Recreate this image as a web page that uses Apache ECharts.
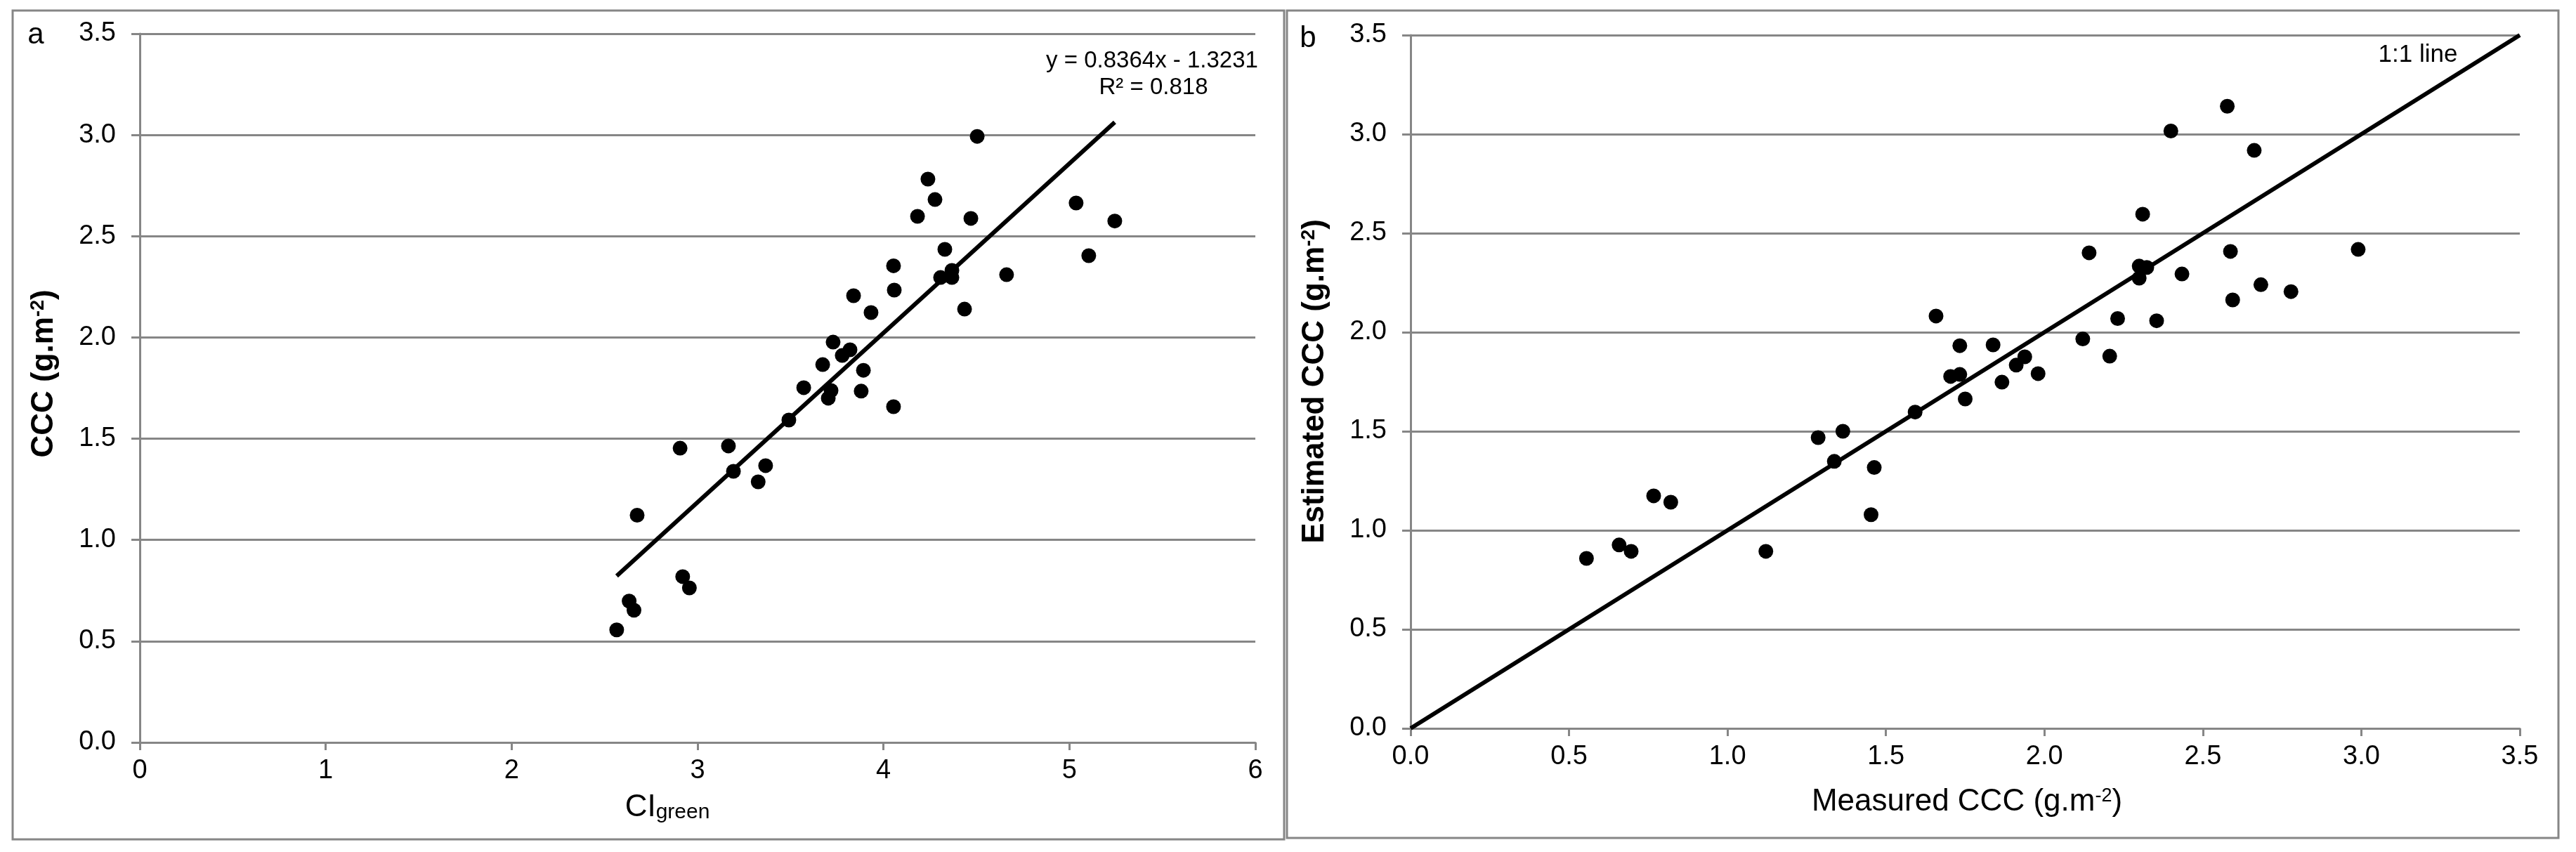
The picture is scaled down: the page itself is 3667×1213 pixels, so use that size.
<!DOCTYPE html>
<html>
<head>
<meta charset="utf-8">
<script src="https://cdn.jsdelivr.net/npm/echarts@6/dist/echarts.min.js"></script>
<style>
html,body{margin:0;padding:0;background:#fff;}
#chart{width:3667px;height:1213px;}
</style>
</head>
<body>
<div id="chart"></div>
<script>
// ---- Panel a: CIgreen vs CCC ----
const ciGreen = [2.565,2.632,2.658,2.675,2.906,2.920,2.956,3.166,3.193,3.326,
                 3.366,3.491,3.571,3.673,3.703,3.718,3.729,3.778,3.820,3.839,
                 3.880,3.892,3.933,4.054,4.058,4.054,4.183,4.239,4.277,4.307,
                 4.330,4.368,4.368,4.436,4.470,4.504,4.662,5.036,5.104,5.244];
const cccA    = [0.556,0.698,0.653,1.122,1.453,0.819,0.763,1.464,1.339,1.287,
                 1.367,1.592,1.752,1.866,1.700,1.738,1.977,1.911,1.939,2.206,
                 1.735,1.838,2.123,2.354,2.234,1.658,2.598,2.782,2.681,2.296,
                 2.435,2.331,2.296,2.140,2.588,2.993,2.310,2.664,2.404,2.575];
const slope = 0.8364, intercept = -1.3231, r2 = 0.818;

// ---- Panel b: measured vs estimated CCC ----
const measuredB  = [0.555,0.658,0.696,0.767,0.821,1.121,1.286,1.337,1.364,1.453,
                    1.463,1.592,1.658,1.704,1.733,1.733,1.750,1.838,1.866,1.911,
                    1.938,1.980,2.121,2.141,2.206,2.231,2.299,2.299,2.310,2.323,
                    2.354,2.399,2.434,2.577,2.587,2.594,2.662,2.683,2.778,2.990];
const estimatedB = [0.858,0.926,0.894,1.174,1.142,0.894,1.468,1.348,1.500,1.079,
                    1.317,1.597,2.082,1.777,1.787,1.932,1.663,1.936,1.748,1.834,
                    1.876,1.791,1.966,2.401,1.879,2.069,2.334,2.273,2.596,2.327,
                    2.058,3.016,2.294,3.141,2.408,2.163,2.918,2.240,2.205,2.418];

// ---- tick labels ----
const xTicksA = [0,1,2,3,4,5,6];
const yTicks  = [0,0.5,1.0,1.5,2.0,2.5,3.0,3.5];
const xTicksB = [0,0.5,1.0,1.5,2.0,2.5,3.0,3.5];

const GRAY = '#868686';
const FONT = '"Liberation Sans", Arial, sans-serif';

const xMinA = Math.min(...ciGreen), xMaxA = Math.max(...ciGreen);
const trend = [[xMinA, slope*xMinA+intercept],[xMaxA, slope*xMaxA+intercept]];
const oneToOne = [[xTicksB[0], xTicksB[0]],[xTicksB[xTicksB.length-1], xTicksB[xTicksB.length-1]]];

function valueAxis(ticks, fmt, isX){
  return {
    type:'value',
    min: ticks[0], max: ticks[ticks.length-1], interval: ticks[1]-ticks[0],
    axisLine:{show:true, lineStyle:{color:GRAY, width:3}},
    axisTick:{show:true, length: isX?11:12, lineStyle:{color:GRAY, width:3}},
    splitLine:{show:!isX, lineStyle:{color:GRAY, width:3}},
    axisLabel:{color:'#000', fontSize:38, fontFamily:FONT, margin: isX?22:34,
               formatter: v => fmt(v)}
  };
}
const f1 = v => v.toFixed(1);
const f0 = v => String(Math.round(v));

const richSup = (size, bold) => ({
  t:{fontSize:size, fontWeight: bold?'bold':'normal', fontFamily:FONT, color:'#000', lineHeight:size},
  s:{fontSize:Math.round(size*0.62), fontWeight: bold?'bold':'normal', fontFamily:FONT, color:'#000',
     lineHeight:Math.round(size*0.45), verticalAlign:'top'},
  sub:{fontSize:Math.round(size*0.68), fontFamily:FONT, color:'#000',
     lineHeight:Math.round(size*0.5), verticalAlign:'bottom'}
});

function txt(x, y, text, opt){
  opt = opt || {};
  return {
    type:'text', x:x, y:y, rotation: opt.rot || 0, z:10,
    style:{text:text, fill:'#000', fontSize:opt.size||38, fontFamily:FONT,
           fontWeight: opt.bold?'bold':'normal',
           align:'center', verticalAlign:'middle',
           rich: opt.rich}
  };
}

const chart = echarts.init(document.getElementById('chart'), null, {renderer:'canvas'});
chart.setOption({
  animation:false,
  backgroundColor:'#fff',
  grid:[
    {left:199, top:48, width:1588, height:1009},
    {left:2008, top:50, width:1579, height:987}
  ],
  xAxis:[
    Object.assign(valueAxis(xTicksA, f0, true), {gridIndex:0}),
    Object.assign(valueAxis(xTicksB, f1, true), {gridIndex:1})
  ],
  yAxis:[
    Object.assign(valueAxis(yTicks, f1, false), {gridIndex:0}),
    Object.assign(valueAxis(yTicks, f1, false), {gridIndex:1})
  ],
  series:[
    {type:'scatter', xAxisIndex:0, yAxisIndex:0, symbol:'circle', symbolSize:21,
     itemStyle:{color:'#000', opacity:1}, data: ciGreen.map((x,i)=>[x, cccA[i]]), z:2},
    {type:'line', xAxisIndex:0, yAxisIndex:0, data:trend, symbol:'none',
     lineStyle:{color:'#000', width:6}, z:3},
    {type:'scatter', xAxisIndex:1, yAxisIndex:1, symbol:'circle', symbolSize:21,
     itemStyle:{color:'#000', opacity:1}, data: measuredB.map((x,i)=>[x, estimatedB[i]]), z:2},
    {type:'line', xAxisIndex:1, yAxisIndex:1, data:oneToOne, symbol:'none',
     lineStyle:{color:'#000', width:6}, z:3}
  ],
  graphic:[
    {type:'rect', shape:{x:18, y:15, width:1810, height:1180}, style:{fill:'none', stroke:GRAY, lineWidth:3}, z:0},
    {type:'rect', shape:{x:1832, y:15, width:1810, height:1178}, style:{fill:'none', stroke:GRAY, lineWidth:3}, z:0},
    txt(51, 50, 'a', {size:42}),
    txt(1862, 55, 'b', {size:42}),
    txt(1640, 87, 'y = ' + slope.toFixed(4) + 'x - ' + Math.abs(intercept).toFixed(4), {size:33}),
    txt(1642, 125, 'R\u00B2 = ' + r2.toFixed(3), {size:33}),
    txt(3442, 78, '1:1 line', {size:35}),
    txt(63, 532, '{t|CCC (g.m}{s|-2}{t|)}', {rot:Math.PI/2, rich:richSup(44, true)}),
    txt(1872, 543, '{t|Estimated CCC (g.m}{s|-2}{t|)}', {rot:Math.PI/2, rich:richSup(44, true)}),
    txt(950, 1150, '{t|CI}{sub|green}', {rich:richSup(44, false)}),
    txt(2800, 1142, '{t|Measured CCC (g.m}{s|-2}{t|)}', {rich:richSup(44, false)})
  ]
});
</script>
</body>
</html>
